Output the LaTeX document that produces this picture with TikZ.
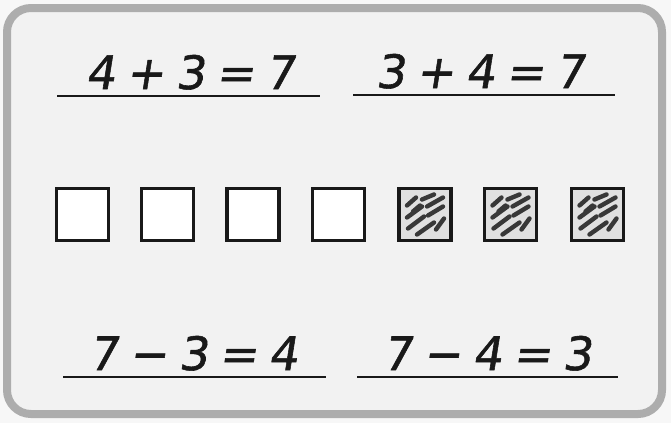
\documentclass[tikz,border=0pt]{standalone}
\usepackage{fontspec}
\newfontfamily\eqfont{DejaVu Sans}[FakeSlant=0.16,FakeBold=1.2]
\begin{document}
\begin{tikzpicture}[x=1pt,y=-1pt,
  eq/.style={font=\eqfont\fontsize{46}{50}\selectfont, anchor=base, inner sep=0pt, text=black!90},
  uline/.style={line width=2.8pt, black!90},
  box/.style={draw=black!90, line width=3.6pt, minimum width=52pt, minimum height=52pt, inner sep=0pt, fill=white},
  shbox/.style={box, fill=black!12},
  scrib/.style={line width=4.4pt, black!78, line cap=round}]
\useasboundingbox (0,0) rectangle (671,423);
\fill[black!3] (0,0) rectangle (671,423);
\draw[line width=8pt, draw=black!32, fill=black!5, rounded corners=24pt] (7,8) rectangle (662,414);
% equations
\newcommand{\gp}{\hspace{11pt}}
\node[eq] (e1) at (190,89) {4\gp+\gp3\gp=\gp7};
\node[eq] (e2) at (480,88) {3\gp+\gp4\gp=\gp7};
\node[eq] (e3) at (193,370) {7\gp−\gp3\gp=\gp4};
\node[eq] (e4) at (487,370) {7\gp−\gp4\gp=\gp3};
\coordinate (l1a) at (57,96); \coordinate (l1b) at (320,96);
\coordinate (l2a) at (353,95); \coordinate (l2b) at (615,95);
\coordinate (l3a) at (63,377); \coordinate (l3b) at (326,377);
\coordinate (l4a) at (357,377); \coordinate (l4b) at (618,377);
\draw[uline] (l1a) -- (l1b);
\draw[uline] (l2a) -- (l2b);
\draw[uline] (l3a) -- (l3b);
\draw[uline] (l4a) -- (l4b);
% boxes
\node[box] (b1) at (82.5,214.5) {};
\node[box] (b2) at (167.5,214.5) {};
\node[box] (b3) at (253,214.5) {};
\node[box] (b4) at (338.5,214.5) {};
\node[shbox] (b5) at (425,214.5) {};
\node[shbox] (b6) at (510.5,214.5) {};
\node[shbox] (b7) at (597.5,214.5) {};
\foreach \b in {b5,b6,b7}{
  \begin{scope}[shift={(\b.center)}]
    \draw[scrib] (-18,-9) -- (-9,-17);
    \draw[scrib] (-3,-15) -- (9,-20);
    \draw[scrib] (-18,3) -- (-3,-8);
    \draw[scrib] (2,-8) -- (18,-17);
    \draw[scrib] (-17,14) -- (-1,2);
    \draw[scrib] (3,1) -- (18,-8);
    \draw[scrib] (-8,20) -- (9,8);
    \draw[scrib] (11,15) -- (19,4);
    \draw[scrib] (-12,-3) -- (-5,-9);
  \end{scope}
}
\end{tikzpicture}
\end{document}
